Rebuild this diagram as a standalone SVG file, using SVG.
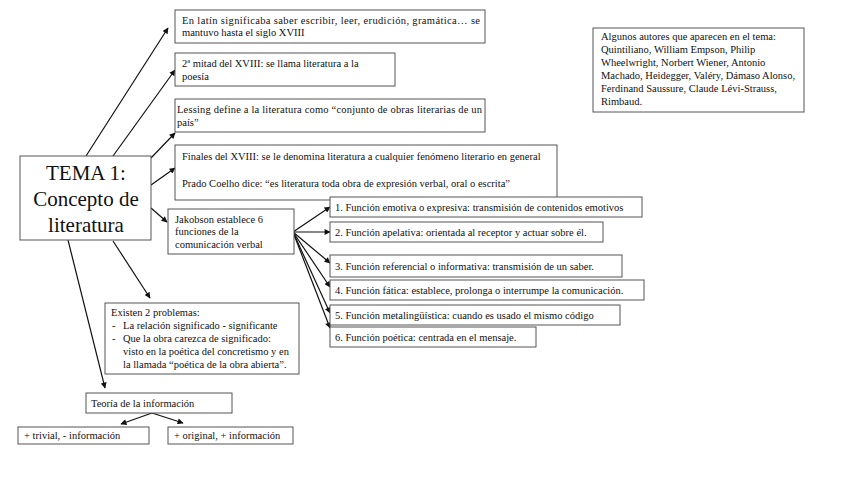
<svg xmlns="http://www.w3.org/2000/svg" width="848" height="477" viewBox="0 0 848 477">
<defs>
<marker id="ah" viewBox="0 0 10 10" refX="9" refY="5" markerWidth="7" markerHeight="6" markerUnits="userSpaceOnUse" orient="auto">
<path d="M0,0 L10,5 L0,10 z" fill="#111"/>
</marker>
<style>
.box{fill:#fff;stroke:#555;stroke-width:1}
text{font-family:"Liberation Serif","Times New Roman",serif;font-size:10.5px;fill:#111}
.big{font-size:21px;text-anchor:middle}
.c line{stroke:#111;stroke-width:1.2;marker-end:url(#ah)}
</style>
</defs>
<rect width="848" height="477" fill="#fff"/>

<g class="c" id="connectors">
<line x1="86" y1="156" x2="168" y2="28"/>
<line x1="113" y1="156" x2="175" y2="70"/>
<line x1="151" y1="158" x2="175" y2="133"/>
<line x1="151" y1="185" x2="175" y2="168"/>
<line x1="151" y1="208" x2="167" y2="222"/>
<line x1="113" y1="241" x2="150" y2="298"/>
<line x1="68" y1="240" x2="105" y2="388"/>
<line x1="293" y1="232" x2="330" y2="207"/>
<line x1="293" y1="232" x2="330" y2="232"/>
<line x1="293" y1="232" x2="330" y2="263"/>
<line x1="293" y1="232" x2="330" y2="287"/>
<line x1="293" y1="232" x2="330" y2="313"/>
<line x1="293" y1="232" x2="330" y2="328"/>
<line x1="152" y1="413" x2="121" y2="424"/>
<line x1="152" y1="413" x2="183" y2="423"/>
</g>

<g id="tema">
<rect class="box" x="20" y="156" width="131" height="84"/>
<text class="big" x="86" y="180">TEMA 1:</text>
<text class="big" x="86" y="206">Concepto de</text>
<text class="big" x="86" y="232">literatura</text>
</g>

<g id="latin">
<rect class="box" x="175" y="10" width="310" height="33"/>
<text x="182" y="24" textLength="298" lengthAdjust="spacing">En latín significaba saber escribir, leer, erudición, gramática… se</text>
<text x="182" y="36">mantuvo hasta el siglo XVIII</text>
</g>

<g id="mitad">
<rect class="box" x="175" y="53" width="220" height="33"/>
<text x="182" y="67">2ª mitad del XVIII: se llama literatura a la</text>
<text x="182" y="80">poesía</text>
</g>

<g id="lessing">
<rect class="box" x="175" y="99" width="310" height="33"/>
<text x="177" y="113" textLength="305" lengthAdjust="spacing">Lessing define a la literatura como “conjunto de obras literarias de un</text>
<text x="177" y="126">país”</text>
</g>

<g id="finales">
<rect class="box" x="175" y="145" width="382" height="55"/>
<text x="182" y="160">Finales del XVIII:  se le denomina  literatura a cualquier fenómeno  literario en general</text>
<text x="182" y="187">Prado Coelho dice: “es literatura toda obra de expresión verbal, oral o escrita”</text>
</g>

<g id="jakobson">
<rect class="box" x="168" y="209" width="126" height="45"/>
<text x="175" y="223">Jakobson establece 6</text>
<text x="175" y="235">funciones  de la</text>
<text x="175" y="248">comunicación verbal</text>
</g>

<g id="f1">
<rect class="box" x="330" y="197" width="312" height="20"/>
<text x="335" y="211">1. Función emotiva o expresiva: transmisión de contenidos emotivos</text>
</g>
<g id="f2">
<rect class="box" x="330" y="222" width="273" height="20"/>
<text x="335" y="236">2. Función apelativa: orientada al receptor y actuar sobre él.</text>
</g>
<g id="f3">
<rect class="box" x="330" y="255" width="292" height="22"/>
<text x="335" y="270">3. Función referencial o informativa: transmisión de un saber.</text>
</g>
<g id="f4">
<rect class="box" x="330" y="280" width="314" height="20"/>
<text x="335" y="294">4. Función fática: establece, prolonga o interrumpe la comunicación.</text>
</g>
<g id="f5">
<rect class="box" x="330" y="305" width="290" height="20"/>
<text x="335" y="319">5. Función metalingüística: cuando es usado el mismo código</text>
</g>
<g id="f6">
<rect class="box" x="330" y="327" width="206" height="20"/>
<text x="335" y="341">6. Función poética: centrada en el mensaje.</text>
</g>

<g id="problemas">
<rect class="box" x="105" y="303" width="194" height="71"/>
<text x="111" y="316">Existen 2 problemas:</text>
<text x="112" y="329">-</text>
<text x="123" y="329">La relación significado - significante</text>
<text x="112" y="342">-</text>
<text x="123" y="342">Que la obra carezca de significado:</text>
<text x="123" y="355">visto en la poética del concretismo y en</text>
<text x="123" y="368">la llamada “poética de la obra abierta”.</text>
</g>

<g id="teoria">
<rect class="box" x="86" y="393" width="146" height="20"/>
<text x="91" y="407">Teoría de la información</text>
</g>
<g id="trivial">
<rect class="box" x="18" y="427" width="131" height="17"/>
<text x="24" y="439">+ trivial, - información</text>
</g>
<g id="original">
<rect class="box" x="168" y="427" width="125" height="17"/>
<text x="174" y="439">+ original, + información</text>
</g>

<g id="autores">
<rect class="box" x="593" y="28" width="211" height="84"/>
<text x="601" y="40">Algunos  autores que aparecen en el tema:</text>
<text x="601" y="53">Quintiliano, William Empson, Philip</text>
<text x="601" y="66">Wheelwright, Norbert Wiener, Antonio</text>
<text x="601" y="79">Machado, Heidegger, Valéry, Dámaso Alonso,</text>
<text x="601" y="92">Ferdinand Saussure, Claude Lévi-Strauss,</text>
<text x="601" y="105">Rimbaud.</text>
</g>
</svg>
